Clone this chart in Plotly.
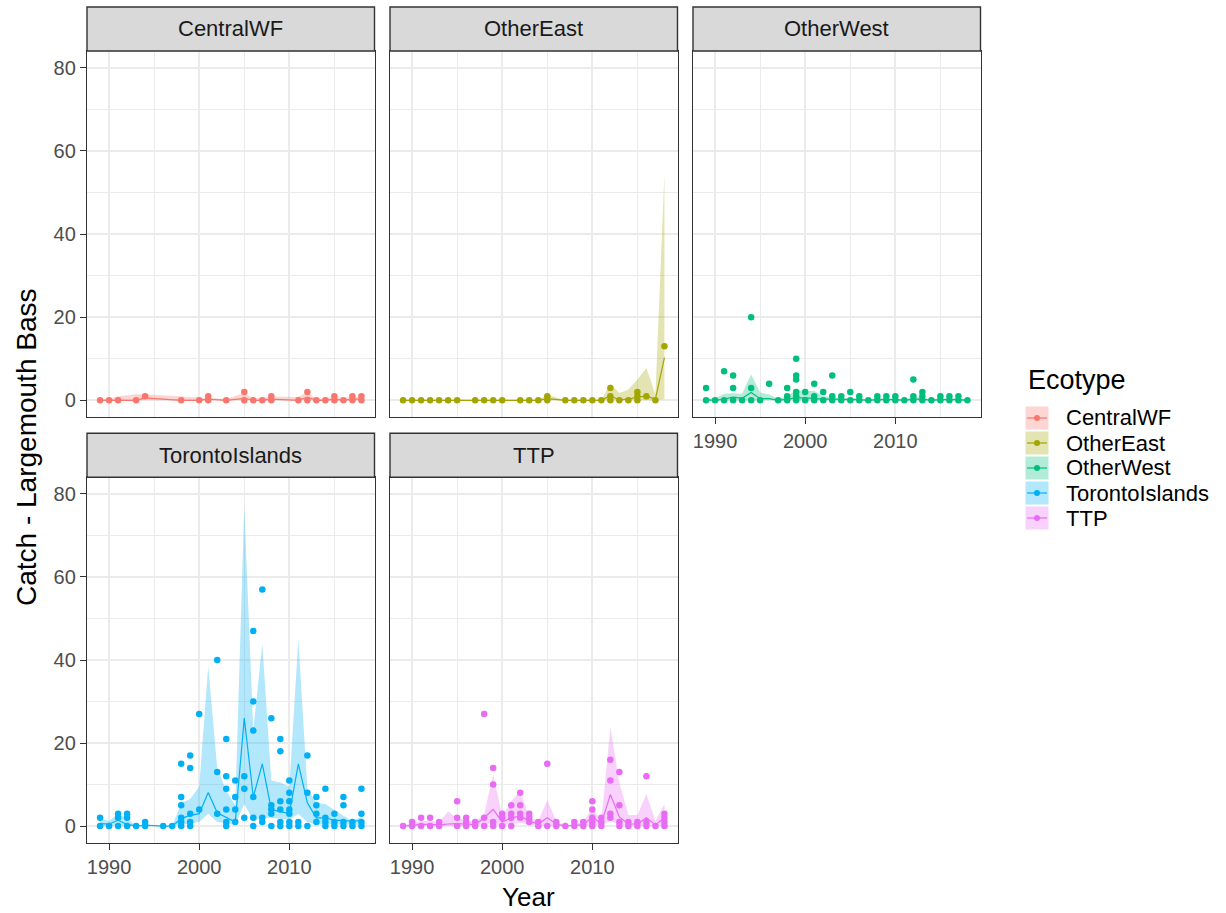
import plotly.graph_objects as go

# ---------------- data ----------------
ECOTYPES = ["CentralWF", "OtherEast", "OtherWest", "TorontoIslands", "TTP"]
COLORS = ["#F8766D", "#A3A500", "#00BF7D", "#00B0F6", "#E76BF3"]
X_TICKS = [1990, 2000, 2010]
Y_TICKS = [0, 20, 40, 60, 80]

# individual catches per year (points)
central_points = {1989: [0], 1990: [0], 1991: [0], 1993: [0], 1994: [1], 1998: [0], 2000: [0],
                  2001: [0, 1], 2003: [0], 2005: [2, 0], 2006: [0], 2007: [0], 2008: [0, 1],
                  2011: [0], 2012: [2, 0], 2013: [0], 2014: [0], 2015: [0, 1], 2016: [0],
                  2017: [0, 1], 2018: [0, 1]}
othereast_points = {1989: [0], 1990: [0], 1991: [0], 1992: [0], 1993: [0], 1994: [0], 1995: [0],
                    1997: [0], 1998: [0], 1999: [0], 2000: [0], 2002: [0], 2003: [0], 2004: [0],
                    2005: [1, 0], 2007: [0], 2008: [0], 2009: [0], 2010: [0], 2011: [0],
                    2012: [3, 1, 0], 2013: [0], 2014: [0], 2015: [2, 1, 0], 2016: [1], 2017: [0],
                    2018: [13]}
otherwest_points = {1989: [3, 0], 1990: [0], 1991: [7, 0], 1992: [6, 3, 0], 1993: [0],
                    1994: [20, 3, 0], 1995: [0], 1996: [4], 1997: [0], 1998: [3, 1, 0],
                    1999: [10, 6, 5, 2, 1, 0], 2000: [2, 0], 2001: [4, 1, 0], 2002: [2, 0],
                    2003: [6, 1, 0], 2004: [1, 0], 2005: [2, 0], 2006: [1, 0], 2007: [0],
                    2008: [1, 0], 2009: [1, 0], 2010: [1, 0], 2011: [0], 2012: [5, 1, 0],
                    2013: [2, 1, 0], 2014: [0], 2015: [1, 0], 2016: [1, 0], 2017: [1, 0], 2018: [0]}
toronto_points = {1989: [2, 0], 1990: [0], 1991: [3, 2, 0], 1992: [3, 2, 0], 1993: [0],
                  1994: [1, 0], 1996: [0], 1997: [0], 1998: [15, 7, 5, 2, 1, 0],
                  1999: [17, 14, 3, 1, 0], 2000: [27, 4], 2002: [40, 13, 3],
                  2003: [21, 12, 9, 4, 1, 0], 2004: [11, 7, 4, 1], 2005: [12, 9, 2],
                  2006: [47, 30, 23, 7, 2, 0], 2007: [57, 2, 1], 2008: [26, 5, 4, 3, 0],
                  2009: [21, 18, 6, 4, 1, 0], 2010: [11, 8, 6, 4, 3, 1, 0], 2011: [1, 0],
                  2012: [17, 8, 0], 2013: [7, 5, 3, 1], 2014: [9, 2, 1, 0], 2015: [3, 1, 0],
                  2016: [7, 5, 1, 0], 2017: [1, 0], 2018: [9, 3, 1, 0]}
ttp_points = {1989: [0], 1990: [1, 0], 1991: [2, 0], 1992: [2, 0], 1993: [1, 0],
              1995: [6, 2, 0], 1996: [2, 1, 0], 1997: [1, 0], 1998: [27, 2, 0],
              1999: [14, 10, 1, 0], 2000: [3, 2, 0], 2001: [5, 3, 2, 0], 2002: [8, 5, 3, 2],
              2003: [3, 2, 1], 2004: [1, 0], 2005: [15, 0], 2006: [1, 0], 2007: [0],
              2008: [1, 0], 2009: [1, 0], 2010: [6, 4, 2, 1, 0], 2011: [2, 1, 0],
              2012: [16, 11, 3, 2], 2013: [13, 5, 1, 0], 2014: [1, 0], 2015: [1, 0],
              2016: [12, 1, 0], 2017: [0], 2018: [3, 2, 1, 0]}

# yearly summary (mean line and ribbon)
central_years = [1989, 1990, 1991, 1993, 1994, 1998, 2000, 2001, 2003, 2005, 2006, 2007, 2008,
                 2011, 2012, 2013, 2014, 2015, 2016, 2017, 2018]
central_mean = [0, 0, 0, 0, 0.6, 0, 0, 0.3, 0, 0.5, 0, 0, 0.3, 0, 0.8, 0, 0, 0.3, 0, 0.3, 0.3]
central_lo = [0] * 21
central_hi = [0.2, 0.3, 1.0, 1.5, 1.5, 1.0, 0.8, 0.7, 0.3, 1.8, 0.5, 0.6, 0.9, 0.8, 2.0, 0.4,
              0.6, 0.8, 0.6, 0.8, 0.8]

othereast_years = [1989, 1990, 1991, 1992, 1993, 1994, 1995, 1997, 1998, 1999, 2000, 2002, 2003,
                   2004, 2005, 2007, 2008, 2009, 2010, 2011, 2012, 2013, 2014, 2015, 2016, 2017,
                   2018]
othereast_mean = [0] * 14 + [0.4, 0, 0, 0, 0, 0, 1.1, 0.1, 0.3, 0.8, 1.0, 0.3, 10.3]
othereast_lo = [0] * 26 + [0.3]
othereast_hi = [0] * 14 + [1.4, 0, 0, 0, 0, 0.1, 4.0, 1.8, 2.6, 5.0, 7.8, 1.5, 54.5]

otherwest_years = list(range(1989, 2019))
otherwest_mean = [0.1, 0, 0.3, 0.8, 0.5, 1.9, 0.4, 0.4, 0, 0.3, 0.6, 0.6, 0.4, 0.3, 0.3, 0.2,
                  0.2, 0.2, 0, 0.2, 0.2, 0.2, 0, 0.3, 0.3, 0, 0.2, 0.2, 0.2, 0]
otherwest_lo = [0] * 30
otherwest_hi = [0.3, 0.5, 1.6, 1.7, 1.6, 6.3, 1.9, 1.4, 0.4, 1.0, 2.5, 2.2, 2.3, 1.0, 0.8, 0.5,
                0.6, 0.5, 0.2, 0.5, 0.5, 0.5, 0.2, 0.8, 0.7, 0.2, 0.5, 0.5, 0.5, 0.2]

toronto_years = [1989, 1990, 1991, 1992, 1993, 1994, 1996, 1997, 1998, 1999, 2000, 2001, 2002,
                 2003, 2004, 2005, 2006, 2007, 2008, 2009, 2010, 2011, 2012, 2013, 2014, 2015,
                 2016, 2017, 2018]
toronto_mean = [0.6, 0.5, 1.4, 0.4, 0, 0.2, 0, 0, 1.8, 2.6, 3.0, 8.1, 3.2, 2.2, 1.0, 26.0, 7.0,
                15.0, 4.0, 3.5, 3.0, 15.0, 5.6, 2.0, 2.0, 1.4, 1.4, 1.1, 1.4]
toronto_lo = [0, 0, 0.3, 0, 0, 0, 0, 0, 0.3, 0.6, 1.0, 3.0, 1.0, 0.7, 0.3, 5.3, 1.2, 2.0, 2.0,
              1.8, 1.5, 3.0, 1.0, 0.4, 0.4, 0.3, 0.3, 0.3, 0.3]
toronto_hi = [1.8, 1.2, 3.0, 1.8, 0, 0.5, 0, 0, 5.5, 6.5, 9.5, 38.5, 14.0, 8.5, 5.0, 77.0, 23.0,
              44.0, 11.0, 10.5, 9.5, 45.0, 9.0, 5.6, 5.3, 3.8, 2.5, 1.3, 2.2]

ttp_years = list(range(1989, 2019))
ttp_mean = [0, 0.2, 0.4, 0.4, 0.3, 0.5, 0.6, 0.5, 0.3, 2.0, 4.0, 1.0, 2.0, 2.4, 1.2, 0.5, 2.0,
            0.5, 0, 0.2, 0.3, 2.2, 0.6, 7.6, 2.2, 0.5, 0.5, 2.0, 0.3, 2.0]
ttp_lo = [0, 0, 0, 0, 0, 0, 0, 0, 0, 0.5, 0.5, 0.2, 0.5, 0.8, 0.3, 0, 0, 0, 0, 0, 0, 0.3, 0,
          1.3, 0.3, 0, 0, 0, 0, 0.3]
ttp_hi = [0, 0.8, 1.2, 1.2, 1.0, 3.5, 1.8, 1.5, 1.0, 3.0, 12.5, 2.5, 6.0, 8.5, 2.2, 1.3, 6.2,
          1.3, 0, 0.5, 1.0, 4.5, 1.3, 23.8, 10.5, 2.7, 2.7, 7.7, 1.3, 5.3]

POINTS = [central_points, othereast_points, otherwest_points, toronto_points, ttp_points]
SUMMARY = [
    (central_years, central_mean, central_lo, central_hi),
    (othereast_years, othereast_mean, othereast_lo, othereast_hi),
    (otherwest_years, otherwest_mean, otherwest_lo, otherwest_hi),
    (toronto_years, toronto_mean, toronto_lo, toronto_hi),
    (ttp_years, ttp_mean, ttp_lo, ttp_hi),
]

# ---------------- layout geometry (pixels) ----------------
W, H = 1226, 913
FONT = "Liberation Sans, Arial, sans-serif"
COLS = [(87, 374.5), (390, 677.5), (693, 980.5)]
ROWS = [(51, 417), (477.3, 842.7)]
STRIP_H = 44
# panel -> (col, row, show x labels, show y labels)
PANEL_POS = [(0, 0, False, True), (1, 0, False, False), (2, 0, True, False),
             (0, 1, True, True), (1, 1, True, False)]


def px(p):
    return p / W


def py(p):
    return 1 - p / H


def rgba(hexc, a):
    h = hexc.lstrip("#")
    return "rgba(%d,%d,%d,%s)" % (int(h[0:2], 16), int(h[2:4], 16), int(h[4:6], 16), a)


fig = go.Figure()
shapes = []
annotations = []

for i, name in enumerate(ECOTYPES):
    col, row, showx, showy = PANEL_POS[i]
    xa = "x" if i == 0 else "x%d" % (i + 1)
    ya = "y" if i == 0 else "y%d" % (i + 1)
    color = COLORS[i]
    years, mean, lo, hi = SUMMARY[i]

    # ribbon
    fig.add_trace(go.Scatter(x=list(years) + list(years)[::-1], y=list(hi) + list(lo)[::-1],
                             fill="toself", fillcolor=rgba(color, 0.3), line=dict(width=0),
                             mode="lines", xaxis=xa, yaxis=ya, hoverinfo="skip"))
    # mean line
    fig.add_trace(go.Scatter(x=years, y=mean, mode="lines", line=dict(color=color, width=1.2),
                             xaxis=xa, yaxis=ya))
    # points
    pts = POINTS[i]
    px_list, py_list = [], []
    for yr, vals in pts.items():
        for v in vals:
            px_list.append(yr)
            py_list.append(v)
    fig.add_trace(go.Scatter(x=px_list, y=py_list, mode="markers",
                             marker=dict(color=color, size=6.5, line=dict(width=0)),
                             xaxis=xa, yaxis=ya, cliponaxis=False))

    x0, x1 = COLS[col]
    y0, y1 = ROWS[row]
    axis_common = dict(showline=True, mirror=True, linecolor="#333333", linewidth=1.4,
                       showgrid=True, gridcolor="#EBEBEB", gridwidth=1.8, zeroline=False,
                       tickfont=dict(family=FONT, size=20, color="#4D4D4D"),
                       ticklen=6, tickwidth=1.4, tickcolor="#333333", fixedrange=True)
    xkey = "xaxis" if i == 0 else "xaxis%d" % (i + 1)
    ykey = "yaxis" if i == 0 else "yaxis%d" % (i + 1)
    fig.update_layout(**{
        xkey: dict(domain=[px(x0), px(x1)], range=[1987.55, 2019.45], anchor=ya,
                   tickmode="array", tickvals=X_TICKS, showticklabels=showx,
                   ticks="outside" if showx else "",
                   minor=dict(tickmode="array", tickvals=[1985, 1995, 2005, 2015],
                              showgrid=True, gridcolor="#EBEBEB", gridwidth=0.9),
                   **axis_common),
        ykey: dict(domain=[py(y1), py(y0)], range=[-4, 84], anchor=xa,
                   tickmode="array", tickvals=Y_TICKS, showticklabels=showy,
                   ticks="outside" if showy else "",
                   minor=dict(tickmode="array", tickvals=[10, 30, 50, 70],
                              showgrid=True, gridcolor="#EBEBEB", gridwidth=0.9),
                   **axis_common),
    })

    # strip
    shapes.append(dict(type="rect", xref="paper", yref="paper", x0=px(x0), x1=px(x1),
                       y0=py(y0), y1=py(y0 - STRIP_H), fillcolor="#D9D9D9",
                       line=dict(color="#333333", width=1.4), layer="above"))
    annotations.append(dict(text=name, xref="paper", yref="paper", x=px((x0 + x1) / 2),
                            y=py(y0 - STRIP_H / 2), showarrow=False, xanchor="center",
                            yanchor="middle", font=dict(family=FONT, size=22, color="#1A1A1A")))

# axis titles
annotations.append(dict(text="Year", xref="paper", yref="paper", x=px(528), y=py(897),
                        showarrow=False, xanchor="center", yanchor="middle",
                        font=dict(family=FONT, size=26, color="black")))
annotations.append(dict(text="Catch - Largemouth Bass", xref="paper", yref="paper", x=px(26),
                        y=py(447), showarrow=False, xanchor="center", yanchor="middle",
                        textangle=-90, font=dict(family=FONT, size=28, color="black")))

# legend (drawn manually)
annotations.append(dict(text="Ecotype", xref="paper", yref="paper", x=px(1026), y=py(380),
                        showarrow=False, xanchor="left", yanchor="middle",
                        font=dict(family=FONT, size=27, color="black")))
for i, name in enumerate(ECOTYPES):
    cy = 418 + 25 * i
    cx = 1037
    color = COLORS[i]
    shapes.append(dict(type="rect", xref="paper", yref="paper", x0=px(cx - 11.5), x1=px(cx + 11.5),
                       y0=py(cy + 11.5), y1=py(cy - 11.5), fillcolor=rgba(color, 0.3),
                       line=dict(width=0)))
    shapes.append(dict(type="line", xref="paper", yref="paper", x0=px(cx - 10), x1=px(cx + 10),
                       y0=py(cy), y1=py(cy), line=dict(color=color, width=1.2)))
    shapes.append(dict(type="circle", xref="paper", yref="paper", x0=px(cx - 3), x1=px(cx + 3),
                       y0=py(cy + 3), y1=py(cy - 3), fillcolor=color, line=dict(width=0)))
    annotations.append(dict(text=name, xref="paper", yref="paper", x=px(1064), y=py(cy),
                            showarrow=False, xanchor="left", yanchor="middle",
                            font=dict(family=FONT, size=22, color="black")))

fig.update_layout(width=W, height=H, margin=dict(l=0, r=0, t=0, b=0),
                  plot_bgcolor="white", paper_bgcolor="white", showlegend=False,
                  shapes=shapes, annotations=annotations)

fig.write_html("out.html", config={"displayModeBar": False},
               post_script="document.body.style.margin='0';document.body.style.overflow='hidden';")
